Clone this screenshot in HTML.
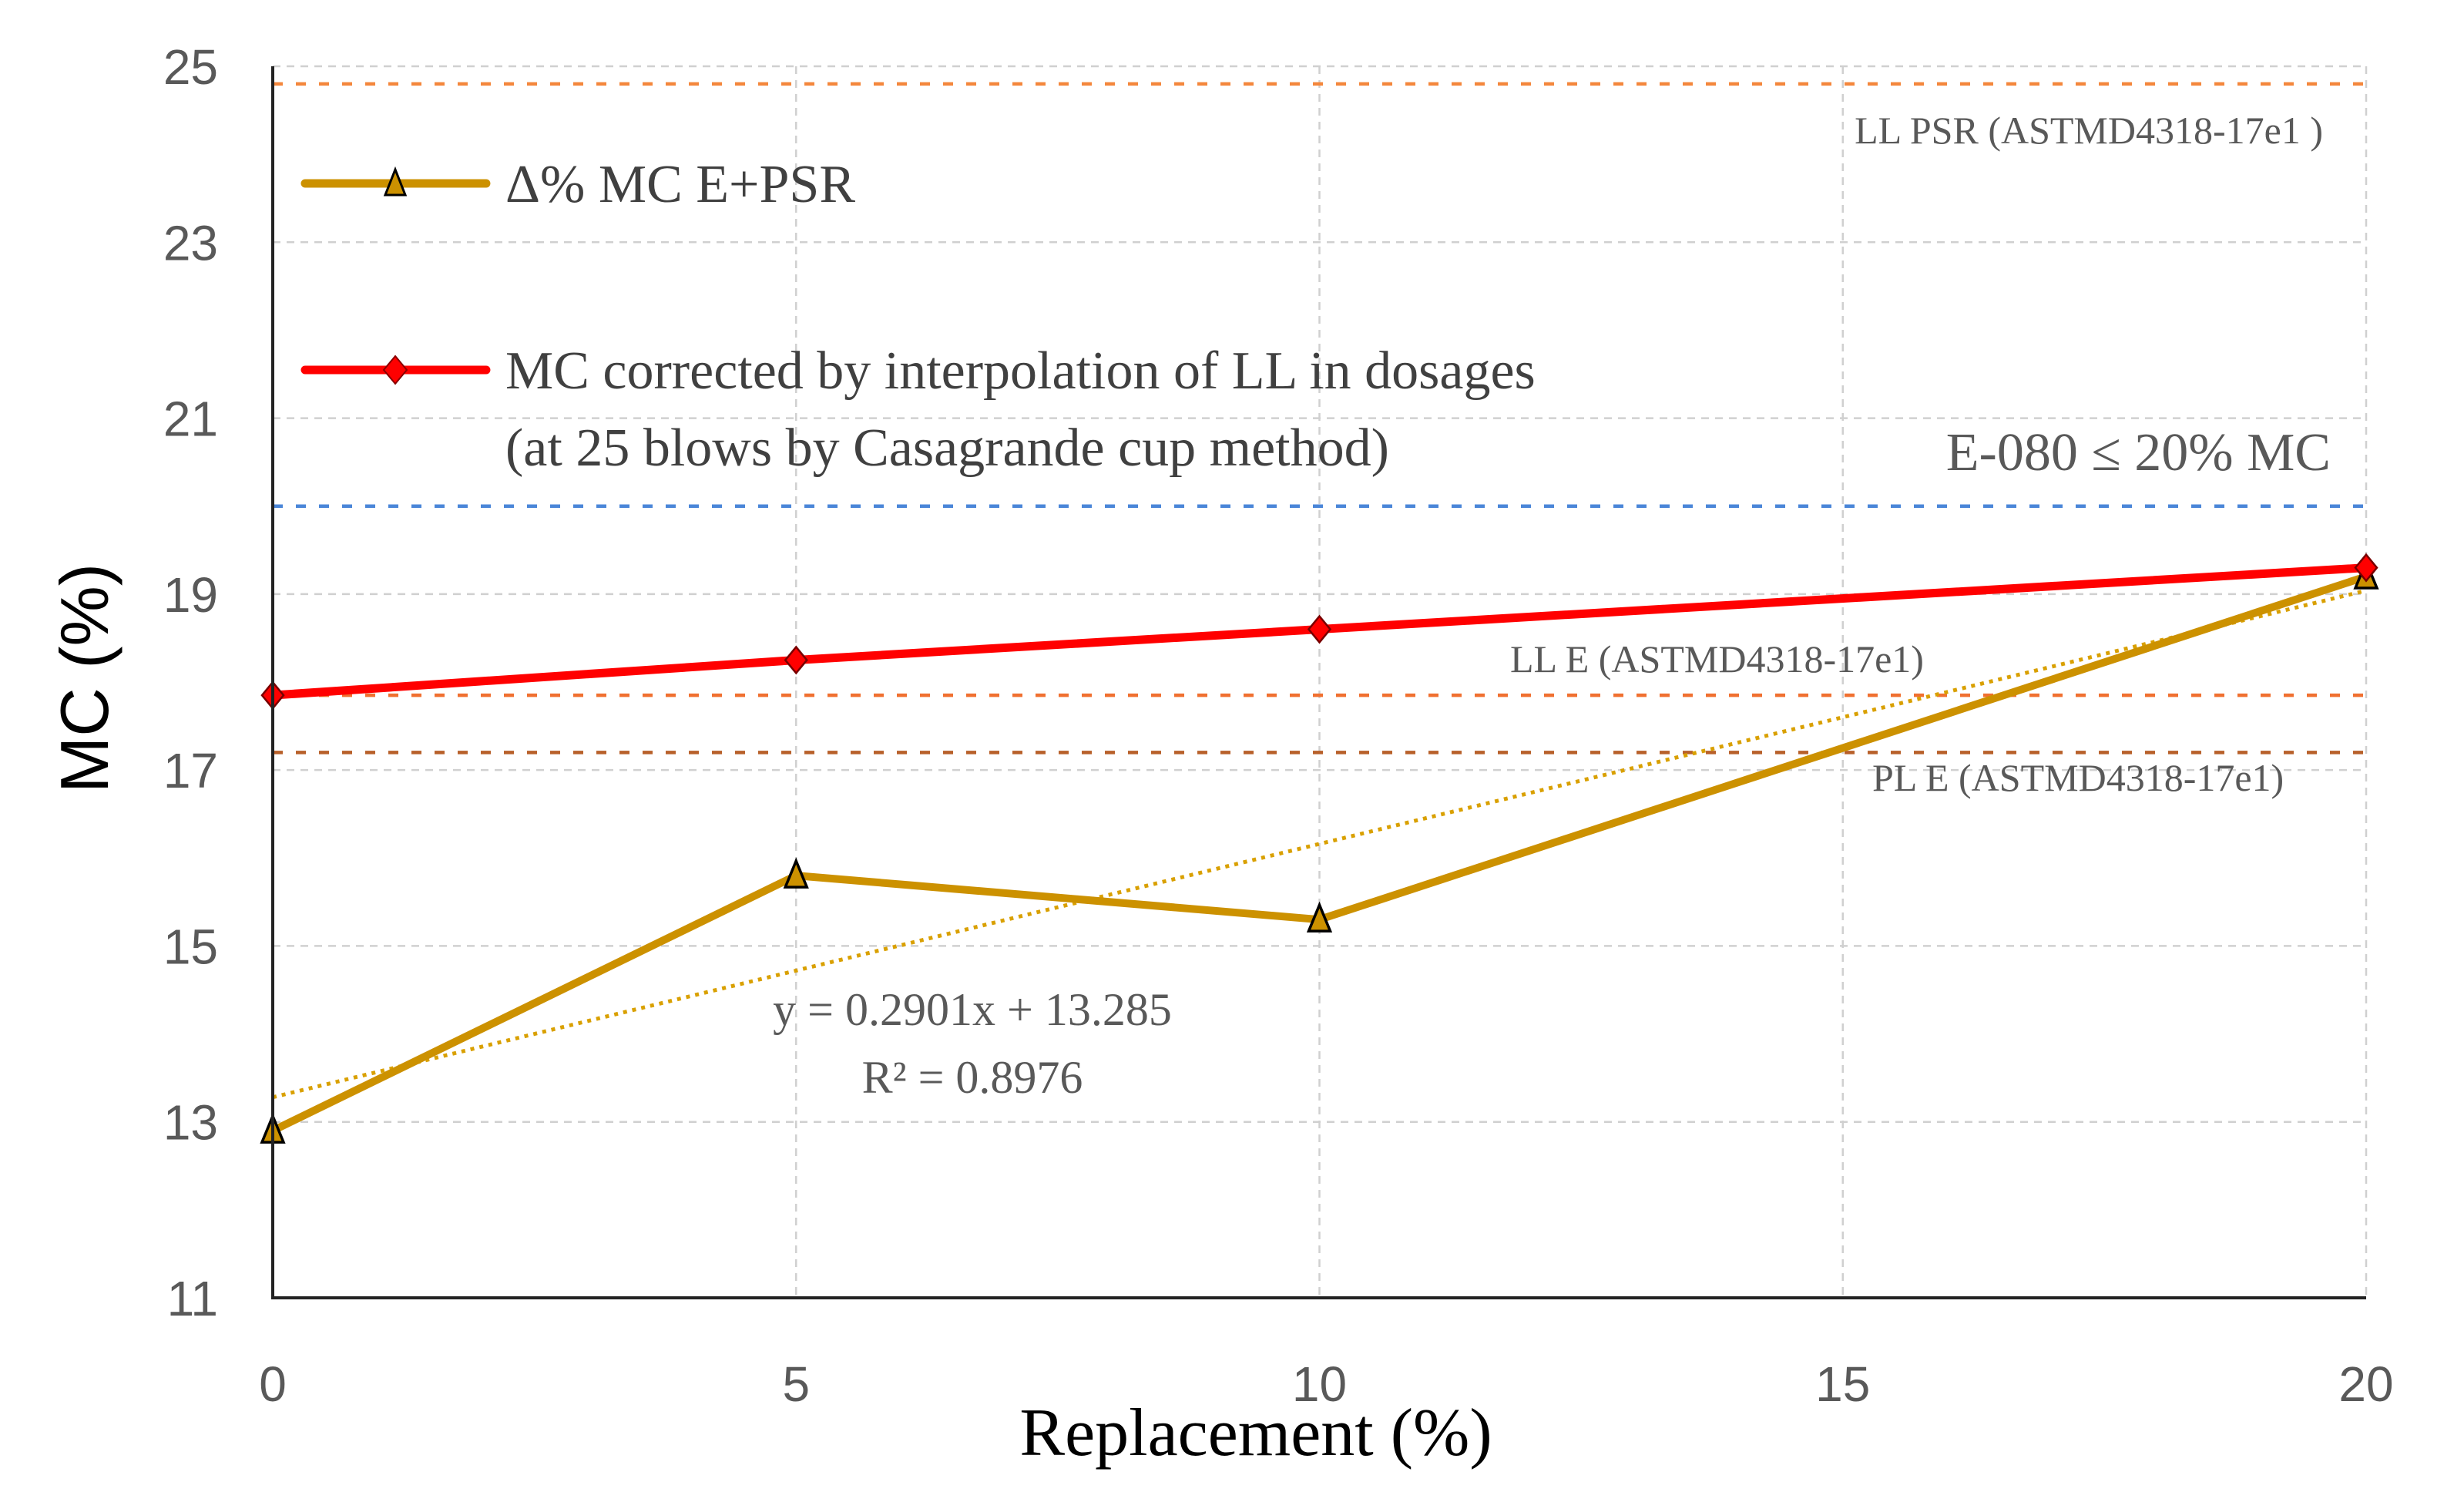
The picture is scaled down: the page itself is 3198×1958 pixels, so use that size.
<!DOCTYPE html>
<html><head><meta charset="utf-8">
<style>
html,body{margin:0;padding:0;background:#fff;}
svg{display:block;}
</style></head>
<body>
<svg id="chart" width="3198" height="1958" viewBox="0 0 3198 1958" xmlns="http://www.w3.org/2000/svg">
<rect width="3198" height="1958" fill="#fff"/>
<g id="grid"></g>
<g id="refs"></g>
<g id="series"></g>
<g id="axes"></g>
<g id="labels" font-family="Liberation Serif, serif" fill="#595959">
  <text x="3015" y="186" font-size="50" text-anchor="end">LL PSR (ASTMD4318-17e1 )</text>
  <text x="3025" y="610" font-size="70" text-anchor="end">E-080 ≤ 20% MC</text>
  <text x="1960" y="872" font-size="50">LL E (ASTMD4318-17e1)</text>
  <text x="2430" y="1026" font-size="50">PL E (ASTMD4318-17e1)</text>
  <text x="1262" y="1330" font-size="60" text-anchor="middle">y = 0.2901x + 13.285</text>
  <text x="1262" y="1418" font-size="60" text-anchor="middle">R² = 0.8976</text>
</g>
<g id="legend" font-family="Liberation Serif, serif" fill="#404040" font-size="70">
  <g>
    <line x1="396" y1="238" x2="631" y2="238" stroke="#cc9100" stroke-width="11" stroke-linecap="round"/>
    <polygon points="513,220 526,253 500,253" fill="#cc9100" stroke="#000" stroke-width="3"/>
    <text x="656" y="262">Δ% MC  E+PSR</text>
  </g>
  <g>
    <line x1="396" y1="480" x2="631" y2="480" stroke="#ff0000" stroke-width="11" stroke-linecap="round"/>
    <polygon points="513,462 528,480 513,498 498,480" fill="#ff0000" stroke="#800" stroke-width="2"/>
    <text x="656" y="504">MC corrected by interpolation of LL in dosages</text>
    <text x="656" y="604">(at 25 blows by Casagrande cup method)</text>
  </g>
</g>
<text x="1630" y="1888" font-family="Liberation Serif, serif" font-size="88" fill="#000" text-anchor="middle">Replacement (%)</text>
<text transform="translate(140,880) rotate(-90)" font-family="Liberation Sans, sans-serif" font-size="88" fill="#000" text-anchor="middle">MC (%)</text>
</svg>
<script>
const xCats = [0, 5, 10, 20];
const mcEPSR = [12.9, 15.8, 15.3, 19.2];
const mcCorrected = [17.85, 18.25, 18.6, 19.3];
const xTicks = [0, 5, 10, 15, 20];
const yTicks = [11, 13, 15, 17, 19, 21, 23, 25];
const refValues = [24.8, 20, 17.85, 17.2];
const refNames = ['ll-psr-line', 'e080-limit-line', 'll-e-line', 'pl-e-line'];
const refColors = ['#f4873c', '#4a86d8', '#f07030', '#b8602a'];

const X0 = 354, X1 = 3071, Y0 = 1684, Y1 = 86;
const xMin = 0, xMax = 20, yMin = 11, yMax = 25;
function sx(v){ return X0 + (v - xMin) / (xMax - xMin) * (X1 - X0); }
function sy(v){ return Y0 - (v - yMin) / (yMax - yMin) * (Y0 - Y1); }
const NS = 'http://www.w3.org/2000/svg';
function mk(tag, attrs, parent){
  const e = document.createElementNS(NS, tag);
  for (const k in attrs) e.setAttribute(k, attrs[k]);
  parent.appendChild(e);
  return e;
}
const grid = document.getElementById('grid');
const refs = document.getElementById('refs');
const series = document.getElementById('series');
const axes = document.getElementById('axes');

yTicks.forEach(t => {
  if (t !== yMin) {
    const g = mk('line', {x1: X0, x2: X1, y1: sy(t), y2: sy(t), stroke: '#d0d0d0', 'stroke-width': 2.5, 'stroke-dasharray': '10,8'}, grid);
    
    
  }
  const l = mk('text', {x: 283, y: sy(t) + 23, 'font-family': 'Liberation Sans, sans-serif', 'font-size': 64, fill: '#595959', 'text-anchor': 'end'}, axes);
  l.textContent = t;
  
  
});
xTicks.forEach(t => {
  if (t !== xMin) {
    const g = mk('line', {x1: sx(t), x2: sx(t), y1: Y1, y2: Y0, stroke: '#d0d0d0', 'stroke-width': 2.5, 'stroke-dasharray': '10,8'}, grid);
    
    
  }
  const l = mk('text', {x: sx(t), y: 1818, 'font-family': 'Liberation Sans, sans-serif', 'font-size': 64, fill: '#595959', 'text-anchor': 'middle'}, axes);
  l.textContent = t;
  
  
});

refValues.forEach((v, i) => {
  const r = mk('line', {x1: X0, x2: X1, y1: sy(v), y2: sy(v), stroke: refColors[i], 'stroke-width': 4.5, 'stroke-dasharray': '13,17'}, refs);
  
  
});

const n = xCats.length;
const mx = xCats.reduce((a,b)=>a+b,0)/n, my = mcEPSR.reduce((a,b)=>a+b,0)/n;
let sxy = 0, sxx = 0;
xCats.forEach((x,i)=>{ sxy += (x-mx)*(mcEPSR[i]-my); sxx += (x-mx)*(x-mx); });
const slope = sxy/sxx, icpt = my - slope*mx;
const tr = mk('line', {x1: sx(xMin), y1: sy(icpt + slope*xMin), x2: sx(xMax), y2: sy(icpt + slope*xMax), stroke: '#d9a000', 'stroke-width': 5, 'stroke-dasharray': '5,7'}, series);



const p1 = mk('polyline', {points: xCats.map((x,i)=>sx(x)+','+sy(mcEPSR[i])).join(' '), fill: 'none', stroke: '#cc9100', 'stroke-width': 10, 'stroke-linejoin': 'round'}, series);


const p2 = mk('polyline', {points: xCats.map((x,i)=>sx(x)+','+sy(mcCorrected[i])).join(' '), fill: 'none', stroke: '#ff0000', 'stroke-width': 11, 'stroke-linejoin': 'round'}, series);



xCats.forEach((x,i) => {
  const cx = sx(x), cy = sy(mcEPSR[i]);
  const m = mk('polygon', {points: `${cx},${cy-19} ${cx+14},${cy+15} ${cx-14},${cy+15}`, fill: '#cc9100', stroke: '#000', 'stroke-width': 3.5}, series);
  
  
});
xCats.forEach((x,i) => {
  const cx = sx(x), cy = sy(mcCorrected[i]);
  const m = mk('polygon', {points: `${cx},${cy-17} ${cx+14},${cy} ${cx},${cy+17} ${cx-14},${cy}`, fill: '#ff0000', stroke: '#700', 'stroke-width': 2.5}, series);
  
  
});

const ya = mk('line', {x1: X0, x2: X0, y1: Y1, y2: Y0 + 2, stroke: '#222', 'stroke-width': 4}, axes);


const xa = mk('line', {x1: X0 - 2, x2: X1, y1: Y0, y2: Y0, stroke: '#222', 'stroke-width': 4}, axes);


</script>
</body></html>
